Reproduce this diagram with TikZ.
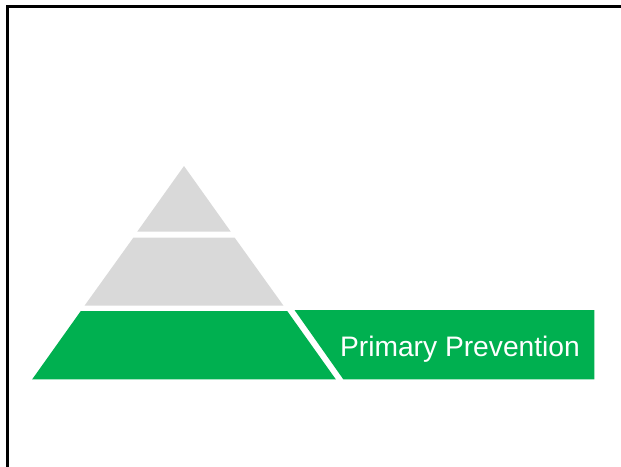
\documentclass[tikz,border=0pt]{standalone}
\usepackage{fontspec}
\setmainfont{Liberation Sans}
\definecolor{pgreen}{HTML}{00B050}
\definecolor{pgray}{HTML}{D9D9D9}
\begin{document}
\begin{tikzpicture}[x=1pt,y=-1pt,
  tier/.style={fill=pgray,draw=none},
  greentier/.style={fill=pgreen,draw=none},
  label/.style={text=white,font=\fontsize{28.2}{33}\selectfont,inner sep=0pt}]
\useasboundingbox (0,0) rectangle (621,466);
\clip (0,0) rectangle (621,466);
\draw[line width=3pt,black] (7.5,6.5) rectangle (640,490);
% pyramid
\fill[tier] (184,166) -- (230.8,231.7) -- (137.2,231.7) -- cycle;
\fill[tier] (133.3,237.7) -- (234.7,237.7) -- (283.5,305.7) -- (84.5,305.7) -- cycle;
\fill[greentier] (80.8,311) -- (287.2,311) -- (335.8,379.3) -- (32.2,379.3) -- cycle;
% band
\fill[greentier] (294.5,310) -- (594.3,310) -- (594.3,379.3) -- (343.3,379.3) -- cycle;
\node[label,anchor=base] (primary) at (460,356) {Primary Prevention};
\end{tikzpicture}
\end{document}
